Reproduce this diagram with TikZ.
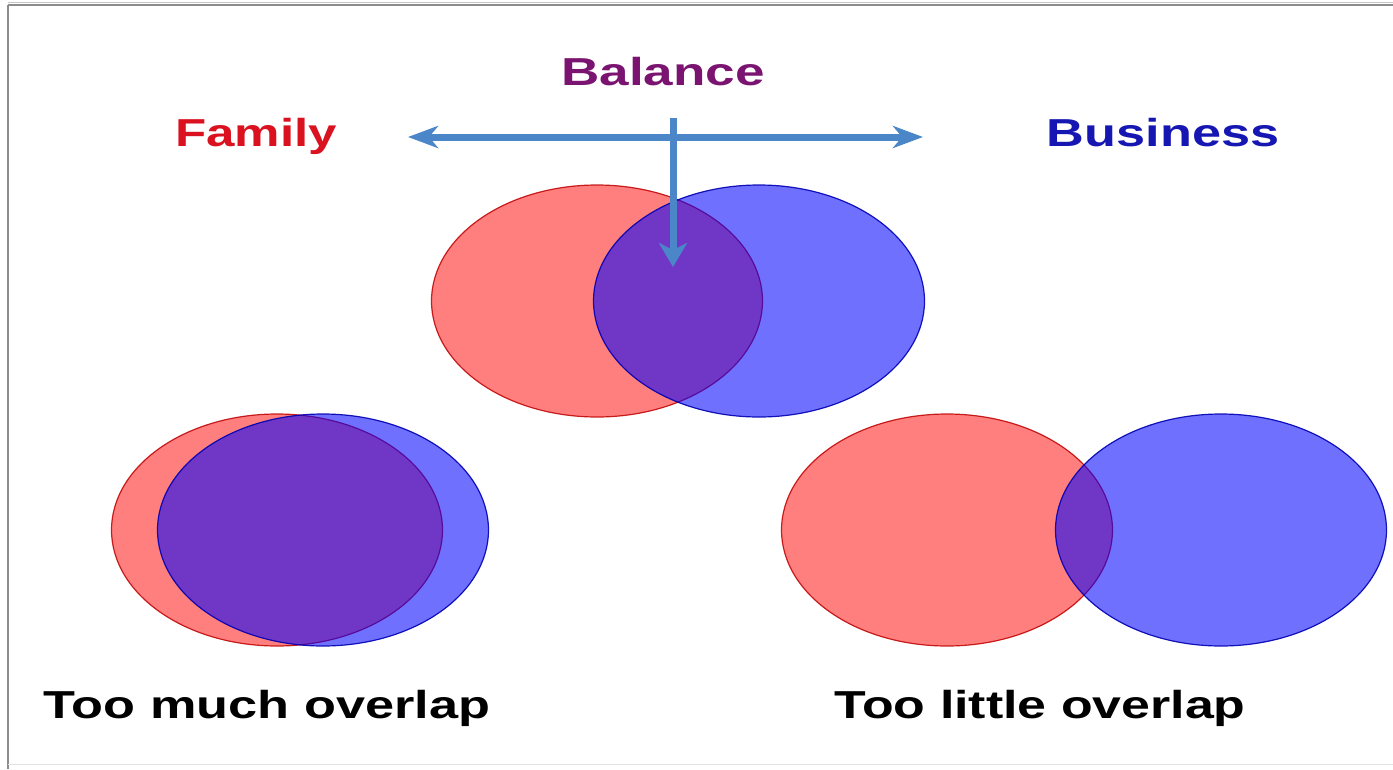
\documentclass[tikz,border=0pt]{standalone}
\usepackage{fontspec}
\setmainfont{Liberation Sans}
\usetikzlibrary{shapes.geometric,arrows.meta}
\definecolor{famred}{RGB}{218,18,32}
\definecolor{balpurple}{RGB}{122,20,112}
\definecolor{busblue}{RGB}{22,22,178}
\definecolor{arrowblue}{RGB}{74,134,200}
\definecolor{framegray}{RGB}{140,140,140}
\tikzset{
  redset/.style={ellipse, draw=red!75!black, line width=1.2pt, fill=red, fill opacity=0.5, draw opacity=0.85, minimum width=331pt, minimum height=232pt, inner sep=0pt},
  blueset/.style={ellipse, draw=blue!70!black, line width=1.2pt, fill=blue, fill opacity=0.56, draw opacity=0.9, minimum width=331pt, minimum height=232pt, inner sep=0pt},
  lbl/.style={font=\bfseries\fontsize{39}{44}\selectfont, inner sep=0pt, anchor=base},
  barrow/.style={draw=arrowblue, line width=7pt, -{Stealth[length=24pt,width=28pt,inset=7pt]}},
  barrows/.style={draw=arrowblue, line width=7pt, {Stealth[length=30pt,width=22pt,inset=9pt]}-{Stealth[length=30pt,width=22pt,inset=9pt]}}
}
\begin{document}
\begin{tikzpicture}[x=1pt,y=-1pt]
\useasboundingbox (0,0) rectangle (1393,769);
\fill[white] (0,0) rectangle (1393,769);
\draw[framegray!50, line width=1pt] (8,2) -- (1393,2);
\draw[framegray, line width=2pt] (8,5) -- (1393,5);
\draw[framegray, line width=2pt] (8,5) -- (8,769);
\draw[framegray!25, line width=1pt] (8,764) -- (1393,764);

% top pair
\node[redset] (tr) at (597,301) {};
\node[blueset] (tb) at (759,301) {};
% bottom left pair
\node[redset] (lr) at (277,530) {};
\node[blueset] (lb) at (323,530) {};
% bottom right pair
\node[redset] (rr) at (947,530) {};
\node[blueset] (rb) at (1221,530) {};

% labels
\node[lbl, text=balpurple, xscale=1.36] (bal) at (663,85) {Balance};
\node[lbl, text=famred, xscale=1.31] (fam) at (256,146) {Family};
\node[lbl, text=busblue, xscale=1.34] (bus) at (1163,146) {Business};
\node[lbl, text=black, xscale=1.34] (tmo) at (267,718) {Too much overlap};
\node[lbl, text=black, xscale=1.33] (tlo) at (1040,718) {Too little overlap};

% arrows
\coordinate (hl) at (408,137);
\coordinate (hr) at (923,137);
\coordinate (vt) at (673,118);
\coordinate (vb) at (673,267);
\draw[barrows] (hl) -- (hr);
\draw[barrow] (vt) -- (vb);
\end{tikzpicture}
\end{document}
